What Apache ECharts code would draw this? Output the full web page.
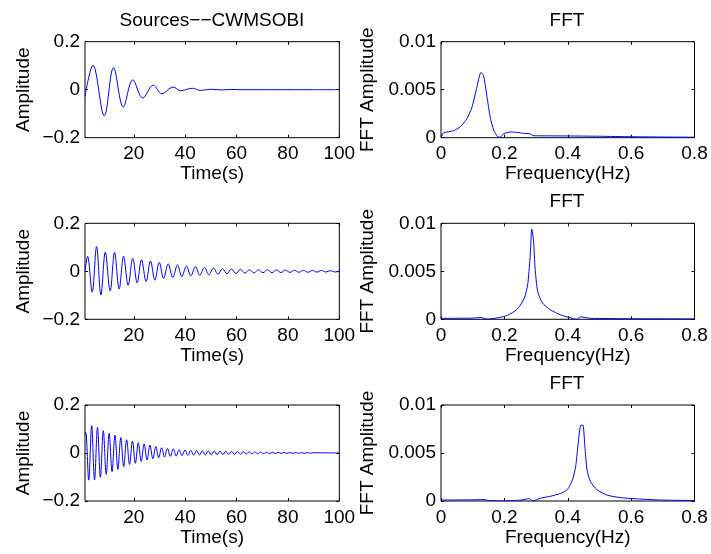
<!DOCTYPE html>
<html>
<head>
<meta charset="utf-8">
<script src="https://cdn.jsdelivr.net/npm/echarts@6/dist/echarts.min.js"></script>
<style>
  html, body { margin: 0; padding: 0; background: #ffffff; }
  #chart { width: 711px; height: 554px; }
</style>
</head>
<body>
<div id="chart"></div>
<script>
// Tick labels
const timeTicks = [20, 40, 60, 80, 100];
const ampTicks = [-0.2, 0, 0.2];
const freqTicks = [0, 0.2, 0.4, 0.6, 0.8];
const fftTicks = [0, 0.005, 0.01];

// Source 1: turning points of the slow decaying oscillation (time s, amplitude)
const s1Time = [1, 4.1, 8.5, 12.1, 15.9, 19.6, 23.5, 27.6, 30.9, 35.3, 38.2, 42.8, 46.0, 50.0, 54.0, 58.0, 62, 70, 80, 90, 100];
const s1Amp = [-0.028, 0.102, -0.109, 0.092, -0.072, 0.041, -0.035, 0.019, -0.017, 0.011, -0.004, 0.006, -0.003, 0.002, -0.001, 0.001, 0, 0, 0, 0, 0];

// Source 2: turning points (time s, amplitude)
const s2Time = [1, 2.0, 3.8, 5.5, 7.2, 8.9, 10.8, 12.5, 14.3, 16.0, 17.8, 19.6, 21.3, 23.0, 24.8, 26.5, 28.2, 29.9,
  31.6, 33.4, 35.2, 37.0, 38.7, 40.5, 42.2, 44.0, 45.7, 47.5, 49.2, 51.0, 52.8, 54.5, 56.3, 58.0, 59.8, 61.5, 63.3,
  65.0, 66.8, 68.5, 70.3, 72.0, 73.8, 75.5, 77.3, 79.0, 80.8, 82.5, 84.3, 86.0, 87.8, 89.5, 91.3, 93.0, 94.8, 96.5, 98.3, 100];
const s2Amp = [0.0, 0.062, -0.087, 0.103, -0.099, 0.080, -0.082, 0.079, -0.074, 0.063, -0.058, 0.054, -0.048, 0.048, -0.043, 0.043, -0.037, 0.037,
  -0.030, 0.031, -0.026, 0.027, -0.022, 0.022, -0.019, 0.019, -0.016, 0.016, -0.014, 0.013, -0.012, 0.011, -0.011, 0.010, -0.009, 0.008, -0.008,
  0.007, -0.007, 0.0065, -0.006, 0.006, -0.0055, 0.0055, -0.005, 0.005, -0.0045, 0.0045, -0.004, 0.004, -0.004, 0.0035, -0.0035, 0.0035, -0.003, 0.003, -0.003, 0.001];

// Source 3: turning points (time s, amplitude)
const s3Time = [1, 1.3, 2.45, 3.59, 4.72, 5.86, 6.99, 8.13, 9.26, 10.4, 11.53, 12.67, 13.8, 14.94, 16.07, 17.21, 18.34, 19.48,
  20.61, 21.75, 22.88, 24.02, 25.15, 26.29, 27.42, 28.56, 29.69, 30.83, 31.96, 33.1, 34.23, 35.37, 36.5, 37.64, 38.77, 39.91,
  41.04, 42.18, 43.31, 44.45, 45.58, 46.72, 47.85, 48.99, 50.12, 51.26, 52.39, 53.53, 54.66, 55.8, 56.93, 58.07, 59.2, 60.34,
  61.47, 62.61, 63.74, 64.88, 66.01, 67.15, 68.28, 69.42, 70.55, 71.69, 72.82, 73.96, 75.09, 76.23, 77.36, 78.5, 79.63, 80.77,
  81.9, 83.04, 84.17, 85.31, 86.44, 87.58, 88.71, 89.85, 100];
const s3Amp = [0.075, 0.085, -0.113, 0.114, -0.112, 0.107, -0.101, 0.093, -0.089, 0.082, -0.078, 0.075, -0.068, 0.064, -0.057, 0.055, -0.048, 0.050,
  -0.043, 0.043, -0.035, 0.038, -0.029, 0.033, -0.024, 0.027, -0.020, 0.022, -0.017, 0.019, -0.014, 0.017, -0.0125, 0.014, -0.011, 0.0125,
  -0.010, 0.011, -0.009, 0.010, -0.0085, 0.0095, -0.008, 0.009, -0.0075, 0.008, -0.007, 0.0075, -0.0065, 0.007, -0.006, 0.0065, -0.0055, 0.006,
  -0.005, 0.0055, -0.0045, 0.005, -0.004, 0.0045, -0.0035, 0.004, -0.003, 0.0035, -0.0028, 0.003, -0.0025, 0.0027, -0.0022, 0.0024, -0.002, 0.0021,
  -0.0017, 0.0018, -0.0015, 0.0015, -0.0012, 0.0013, -0.001, 0.001, 0];

// FFT spectra (frequency Hz, amplitude)
const f1Freq = [0, 0.008, 0.04, 0.061, 0.082, 0.098, 0.1135, 0.126, 0.134, 0.145, 0.155, 0.166, 0.179, 0.186, 0.197, 0.219, 0.24, 0.261, 0.282, 0.29, 0.3, 0.4, 0.5, 0.6, 0.7, 0.8];
const f1Amp = [0, 0.0005, 0.00073, 0.00115, 0.002, 0.0032, 0.0053, 0.0068, 0.0065, 0.0043, 0.0022, 0.0008, 0.0001, 0.00005, 0.0004, 0.0006, 0.00055, 0.00045, 0.0004, 0.00022, 0.0002, 0.00018, 0.00015, 0.0001, 0.00007, 0.00005];

const f2Freq = [0, 0.1, 0.126, 0.147, 0.168, 0.2, 0.221, 0.242, 0.263, 0.2735, 0.281, 0.2865, 0.292, 0.297, 0.305, 0.32, 0.346, 0.378, 0.409, 0.427, 0.441, 0.473, 0.6, 0.8];
const f2Amp = [0.0001, 0.00012, 0.00018, 0.00002, 0.0001, 0.0003, 0.0006, 0.0011, 0.0022, 0.0036, 0.0064, 0.0094, 0.0082, 0.0053, 0.0029, 0.0017, 0.00097, 0.00045, 0.00015, 0.0, 0.00025, 0.0001, 0.00006, 0.00004];

const f3Freq = [0, 0.1, 0.136, 0.15, 0.2, 0.253, 0.279, 0.289, 0.315, 0.346, 0.378, 0.399, 0.415, 0.425, 0.432, 0.441, 0.448, 0.454, 0.461, 0.472, 0.493, 0.525, 0.567, 0.609, 0.693, 0.8];
const f3Amp = [0.0001, 0.00012, 0.00015, 0.00005, 0.0, 0.0001, 0.00025, 0.0, 0.0003, 0.0005, 0.0008, 0.0012, 0.0022, 0.0036, 0.0057, 0.0079, 0.0079, 0.0057, 0.0032, 0.002, 0.00115, 0.0006, 0.00035, 0.00024, 0.0001, 0.00005];

// Panel layout (pixels)
const colLeft = [85, 441];
const colWidth = [254.3, 253.5];
const rowTop = [41.7, 223.3, 405];
const rowHeight = 96;

const FONT = 'Liberation Sans, Arial, Helvetica, sans-serif';
const FS = 19;

const panels = [
  { row: 0, col: 0, xs: s1Time, ys: s1Amp, kind: 'time', smooth: 0.36 },
  { row: 0, col: 1, xs: f1Freq, ys: f1Amp, kind: 'fft', smooth: 0.2 },
  { row: 1, col: 0, xs: s2Time, ys: s2Amp, kind: 'time', smooth: 0.36 },
  { row: 1, col: 1, xs: f2Freq, ys: f2Amp, kind: 'fft', smooth: 0.2 },
  { row: 2, col: 0, xs: s3Time, ys: s3Amp, kind: 'time', smooth: 0.36 },
  { row: 2, col: 1, xs: f3Freq, ys: f3Amp, kind: 'fft', smooth: 0.2 }
];

const minusFmt = v => String(v).replace('-', '\u2212');
const tickStyle = { show: true, inside: true, length: 3, lineStyle: { color: '#000', width: 1 } };
const labelBase = { color: '#000', fontFamily: FONT, fontSize: FS };
const noLine = { show: false, onZero: false };

const grid = [], xAxis = [], yAxis = [], series = [];

panels.forEach((p, i) => {
  grid.push({
    left: colLeft[p.col], top: rowTop[p.row], width: colWidth[p.col], height: rowHeight,
    show: true, borderColor: '#000', borderWidth: 1, backgroundColor: 'transparent'
  });
  const isTime = p.kind === 'time';
  const xBase = isTime
    ? { type: 'value', min: 1, max: 100 }
    : { type: 'value', min: freqTicks[0], max: freqTicks[freqTicks.length - 1], interval: 0.2 };
  const yBase = isTime
    ? { type: 'value', min: ampTicks[0], max: ampTicks[ampTicks.length - 1], interval: 0.2 }
    : { type: 'value', min: fftTicks[0], max: fftTicks[fftTicks.length - 1], interval: 0.005 };
  const xTick = isTime ? Object.assign({}, tickStyle, { customValues: timeTicks }) : tickStyle;

  xAxis.push(Object.assign({}, xBase, {
    gridIndex: i, position: 'bottom',
    axisLine: noLine, splitLine: { show: false }, axisTick: xTick,
    axisLabel: Object.assign({}, labelBase, { margin: 7, formatter: minusFmt },
      isTime ? { customValues: timeTicks } : {}),
    name: isTime ? 'Time(s)' : 'Frequency(Hz)',
    nameLocation: 'middle', nameGap: 27,
    nameTextStyle: labelBase
  }));
  xAxis.push(Object.assign({}, xBase, {
    gridIndex: i, position: 'top',
    axisLine: noLine, splitLine: { show: false }, axisTick: xTick,
    axisLabel: { show: false }
  }));
  yAxis.push(Object.assign({}, yBase, {
    gridIndex: i, position: 'left',
    axisLine: noLine, splitLine: { show: false }, axisTick: tickStyle,
    axisLabel: Object.assign({}, labelBase, { margin: 5, formatter: minusFmt }),
    name: isTime ? 'Amplitude' : 'FFT Amplitude',
    nameLocation: 'middle', nameGap: isTime ? 52 : 64,
    nameTextStyle: labelBase
  }));
  yAxis.push(Object.assign({}, yBase, {
    gridIndex: i, position: 'right',
    axisLine: noLine, splitLine: { show: false }, axisTick: tickStyle,
    axisLabel: { show: false }
  }));

  series.push({
    type: 'line',
    xAxisIndex: 2 * i, yAxisIndex: 2 * i,
    data: p.xs.map((x, k) => [x, p.ys[k]]),
    showSymbol: false, symbol: 'none',
    smooth: p.smooth,
    lineStyle: { color: '#0000ff', width: 1 },
    itemStyle: { color: '#0000ff' },
    silent: true, animation: false
  });
});

const titleStyle = { fill: '#000', font: FS + 'px ' + FONT, textAlign: 'center', textVerticalAlign: 'middle' };
const titles = [
  { text: 'Sources\u2212\u2212CWMSOBI', x: 212, y: 20.5 },
  { text: 'FFT', x: 567, y: 21 },
  { text: 'FFT', x: 567, y: 202 },
  { text: 'FFT', x: 567, y: 384 }
];

const chart = echarts.init(document.getElementById('chart'), null, { renderer: 'canvas' });
chart.setOption({
  backgroundColor: '#ffffff',
  animation: false,
  grid, xAxis, yAxis, series,
  graphic: titles.map(t => ({
    type: 'text', x: t.x, y: t.y, silent: true,
    style: Object.assign({}, titleStyle, { text: t.text })
  }))
});
</script>
</body>
</html>
